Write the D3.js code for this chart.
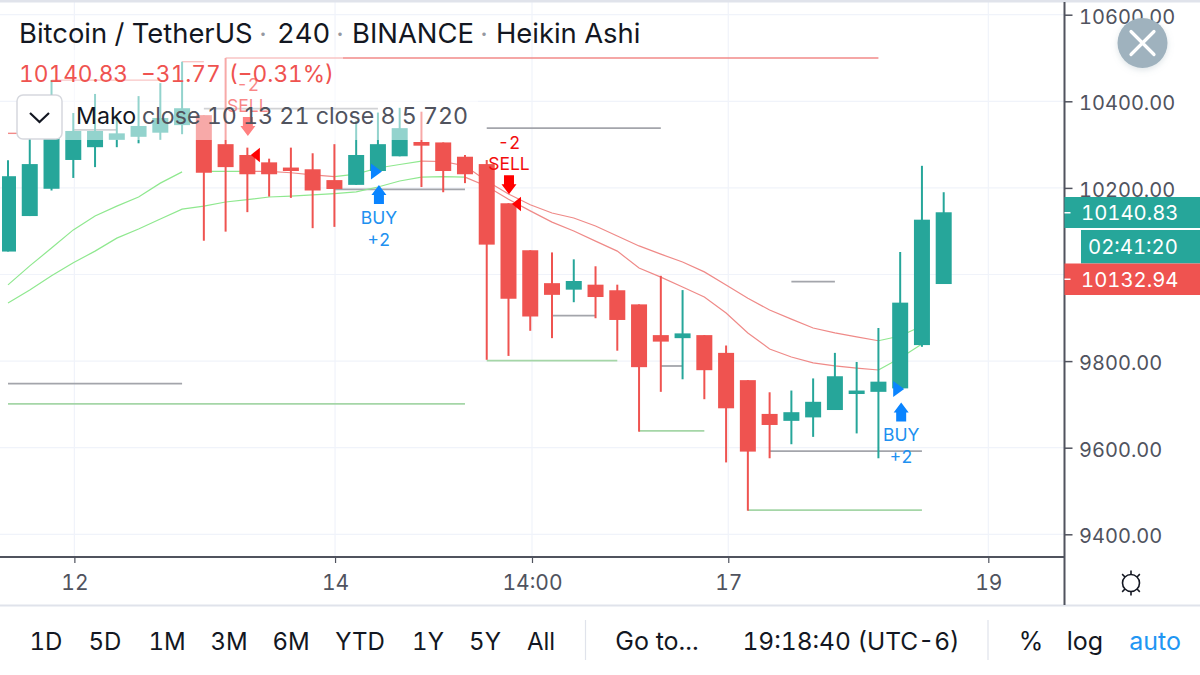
<!DOCTYPE html>
<html><head><meta charset="utf-8">
<script src="https://cdn.jsdelivr.net/npm/d3@7/dist/d3.min.js"></script>
<style>
html,body{margin:0;padding:0;background:#fff;overflow:hidden}
svg{display:block}
text{font-family:Inter,"Noto Sans",sans-serif;font-variant-numeric:tabular-nums;font-feature-settings:"tnum"}
.ax path{display:none}
</style></head><body>
<svg id="c" width="1200" height="675"></svg>
<script>
// Heikin Ashi candles, four hour bars
const opens  = [10053,10135,10198,10264.5,10294,10311,10318,10327.5,10345,10368,10301,10276,10259,10247,10243,10218,10207,10239,10273,10306,10305,10272,10255,10164.5,10056,9980,9965,9976.5,9963.6,9931,9860,9853,9860,9819,9756,9678,9662,9670,9687,9724,9729,9737,9837,9978];
const highs  = [10264,10345,10449,10373,10417,10364,10412,10442,10491.5,10368,10500,10293,10267.5,10293,10280,10301,10355,10374,10385,10376,10305,10276,10264.5,10164.5,10056,10051,10035,10019,9976.5,9931,9997,9964,9860,9836,9756,9728,9732,9760,9819,9798,9876.5,10052,10251,10190];
const lows   = [10053,10135,10194,10223,10248,10294,10303,10311,10324,10078,10099,10144,10180,10177,10107,10110,10207,10239,10273,10202,10190,10211,9803,9812,9870,9853,9936,9899,9824,9637,9729,9758,9712,9566,9454.5,9575.6,9608,9625,9687,9633,9575.6,9737,9833,9978];
const closes = [10227,10255,10334,10331.5,10331.5,10326,10343,10361.5,10384,10235,10248,10231.5,10231.5,10239,10194,10197.5,10276,10301,10338,10297.5,10239,10231.5,10069,9944,9903,9953,9985,9948,9895,9786,9845,9864,9779,9691,9591,9652.5,9682,9706,9765,9732,9752.5,9935,10126.6,10143.7];
// the two Mako bands, per bar
const makoFast = [9976,10020,10061,10103,10135,10158,10179,10211,10237,10238,10238,10238,10238,10235,10230,10226,10232,10246,10254,10262,10261,10251,10216,10186,10161,10142,10130.5,10112,10089,10066,10047,10029,10006,9976,9945,9918,9897,9876.5,9865,9856,9847,9858,9881];
const makoSlow = [9934,9964,9997,10027,10054,10084,10105,10128,10151,10158,10167.5,10173,10179,10181,10184,10187,10191,10202,10216,10225,10226,10225,10204,10174,10147,10121,10100.5,10077,10054,10015,9994,9971,9948,9911,9865,9828,9809.5,9796,9789,9784,9779.5,9807,9839.5];
// band colour changes: [first bar, last bar, "up"/"down"]
const fastRuns = [[0,8,"up"],[9,11,"up"],[11,15,"down"],[15,19,"up"],[19,40,"down"],[40,42,"up"]];
const slowRuns = [[0,21,"up"],[21,40,"down"],[40,42,"up"]];
// stepped levels
const levelStart = [10,8,2,0,3,9,22,0,0,15,22,25,29,30,36,35,34];
const levelEnd   = [40,9,7,1,5,17,30,8,21,21,28,27,32,31,38,42,42];
const levelPrice = [10500,10491.5,10449,10326,10334,10383,10338,9748,9701,10196.4,9801,9905,9639,9788.7,9983.4,9592,9456];
const levelKind  = ["r","r","r","r","k","k","k","k","g","k","g","k","g","k","k","k","g"];
// signals
const sigBar   = [11,23,17,41];
const sigPrice = [10276,10164.5,10239,9737];
const sigSide  = ["sell","sell","buy","buy"];
const sigQty   = ["-2","-2","+2","+2"];
const sigGap   = [38,28,14,14];
// axes
const priceTicks = [9400,9600,9800,10000,10200,10400,10600];
const timeTickBars = [3.05,15.03,24.08,33.1,45.05];
const timeTickLabels = ["12","14","14:00","17","19"];
const rangeButtons = ["1D","5D","1M","3M","6M","YTD","1Y","5Y","All"];
const rangeCentres = [46,105,167,229,291,360,428,485,541];

const GREEN="#26a69a",RED="#ef5350";
const svg=d3.select("#c");
const x=d3.scaleLinear().domain([0,43]).range([8,943.7]);
const y=d3.scaleLinear().domain([9400,10600]).range([534.3,14.7]);
const AXX=1064.5,AXY=557;

svg.append("defs").append("clipPath").attr("id","pane").append("rect").attr("x",2).attr("y",0).attr("width",AXX-2).attr("height",AXY);
const f=svg.append("defs").append("filter").attr("id","sh").attr("x","-30%").attr("y","-30%").attr("width","160%").attr("height","160%");
f.append("feDropShadow").attr("dx",0).attr("dy",2).attr("stdDeviation",3).attr("flood-color","#90a4ae").attr("flood-opacity",.3);

// grid
const grid=svg.append("g").attr("stroke","#f0f3fa").attr("stroke-width",1.2);
grid.selectAll("line.h").data(priceTicks).join("line").attr("class","h").attr("x1",0).attr("x2",AXX).attr("y1",d=>y(d)).attr("y2",d=>y(d));
grid.selectAll("line.v").data(timeTickBars).join("line").attr("class","v").attr("y1",2).attr("y2",AXY).attr("x1",d=>x(d)).attr("x2",d=>x(d));

const pane=svg.append("g").attr("clip-path","url(#pane)");
// levels
const levelColor={r:"#f28a88",k:"#a3a5ab",g:"#a5d6a7"};
pane.selectAll("line.lvl").data(levelPrice).join("line").attr("class","lvl")
 .attr("x1",(d,i)=>x(levelStart[i])).attr("x2",(d,i)=>x(levelEnd[i]))
 .attr("y1",d=>y(d)).attr("y2",d=>y(d))
 .attr("stroke",(d,i)=>levelColor[levelKind[i]]).attr("stroke-width",(d,i)=>levelKind[i]==="r"?1.4:1.8);
// bands
const ln=d3.line().x(d=>x(d[0])).y(d=>y(d[1]));
function band(vals,runs){
 runs.forEach(r=>{
  const pts=d3.range(r[0],r[1]+1).map(i=>[i,vals[i]]);
  pane.append("path").attr("d",ln(pts)).attr("fill","none").attr("stroke-width",1.2)
   .attr("stroke",r[2]==="up"?"#8fe88f":"#ef8a88");
 });
}
band(makoFast,fastRuns); band(makoSlow,slowRuns);
// candles
const bars=d3.range(opens.length);
const col=i=>closes[i]>=opens[i]?GREEN:RED;
pane.selectAll("line.w").data(bars).join("line").attr("class","w")
 .attr("x1",i=>x(i)).attr("x2",i=>x(i)).attr("y1",i=>y(highs[i])).attr("y2",i=>y(lows[i]))
 .attr("stroke",col).attr("stroke-width",2);
pane.selectAll("rect.b").data(bars).join("rect").attr("class","b")
 .attr("x",i=>x(i)-8).attr("width",16)
 .attr("y",i=>y(Math.max(opens[i],closes[i]))).attr("height",i=>Math.max(1.5,Math.abs(y(opens[i])-y(closes[i]))))
 .attr("fill",col);
// signals
sigBar.forEach((b,i)=>{
 const sell=sigSide[i]==="sell";
 const c=sell?"#ff0000":"#0a84ff", tc=sell?"#f20d0d":"#2090f0";
 const g=pane.append("g");
 const cx=x(b), py=y(sigPrice[i]);
 if(sell){
  const tipY=b===11?py:py+0.8;
  g.append("path").attr("fill",c).attr("d",`M${cx+3.5} ${tipY}L${cx+12.5} ${tipY-7.3}V${tipY+7.3}Z`);
  const top=py-sigGap[i];
  g.append("path").attr("fill",c).attr("d",`M${cx-4.5} ${top}H${cx+5.5}V${top+9}H${cx+8}L${cx+0.5} ${top+19}L${cx-7} ${top+9}H${cx-4.5}Z`);
  g.append("text").attr("x",cx+0.5).attr("y",top-5).attr("text-anchor","middle").attr("font-size",17.5).attr("fill",tc).text("SELL");
  g.append("text").attr("x",cx+0.5).attr("y",top-26).attr("text-anchor","middle").attr("font-size",17.5).attr("fill",tc).text(sigQty[i]);
 } else {
  const tx=cx+1;
  g.append("path").attr("fill",c).attr("d",`M${tx-8} ${py-7.5}L${tx+3} ${py+0.5}L${tx-8} ${py+8.5}Z`);
  const top=py+sigGap[i];
  g.append("path").attr("fill",c).attr("d",`M${tx} ${top}L${tx+7.5} ${top+10}H${tx+5}V${top+19}H${tx-5}V${top+10}H${tx-7.5}Z`);
  g.append("text").attr("x",tx).attr("y",top+39).attr("text-anchor","middle").attr("font-size",17.5).attr("fill",tc).text("BUY");
  g.append("text").attr("x",tx).attr("y",top+61).attr("text-anchor","middle").attr("font-size",17.5).attr("fill",tc).text(sigQty[i]);
 }
});

// translucent legend backgrounds
svg.append("rect").attr("x",10).attr("y",50).attr("width",333).attr("height",44).attr("fill","#fff").attr("opacity",.5);
svg.append("rect").attr("x",62).attr("y",94).attr("width",416).attr("height",46).attr("fill","#fff").attr("opacity",.5);

// legend text
function t(txt,xp,yp,size,fill,anchor){
 return svg.append("text").attr("x",xp).attr("y",yp).attr("font-size",size).attr("fill",fill).attr("text-anchor",anchor||"start").attr("dominant-baseline","central").text(txt);
}
const dark="#131722",grey="#50535e";
t("Bitcoin / TetherUS",19,33,27.4,dark);
t("·",263,33,26,"#9598a1","middle");
t("240",277,33,27.4,dark);
t("·",340,33,26,"#9598a1","middle");
t("BINANCE",352,33,27.4,dark);
t("·",484,33,26,"#9598a1","middle");
t("Heikin Ashi",496,33,27.4,dark);
t("10140.83",19,73,22.7,RED);
t("−31.77",141,73,22.7,RED);
t("(−0.31%)",229,73,22.7,RED);
t("Mako",76,116,23.2,dark);
t("close 10 13 21 close 8 5 720",142,116,23.2,grey);
// chevron button
svg.append("rect").attr("x",17).attr("y",95).attr("width",45).attr("height",44).attr("rx",6).attr("fill","#fff").attr("stroke","#d6d8de").attr("stroke-width",1.5);
svg.append("path").attr("d","M30 113L39.5 122L49 113").attr("fill","none").attr("stroke",dark).attr("stroke-width",2.2);

// chrome lines
svg.append("rect").attr("x",0).attr("y",0).attr("width",1200).attr("height",2.5).attr("fill","#e0e3eb");
svg.append("rect").attr("x",0).attr("y",604.5).attr("width",1200).attr("height",2).attr("fill","#e0e3eb");
svg.append("line").attr("x1",0).attr("x2",AXX).attr("y1",AXY).attr("y2",AXY).attr("stroke",grey).attr("stroke-width",2);
svg.append("line").attr("x1",AXX).attr("x2",AXX).attr("y1",2).attr("y2",605).attr("stroke",grey).attr("stroke-width",2);

// axes
const ya=svg.append("g").attr("class","ax").attr("transform",`translate(${AXX},0)`)
 .call(d3.axisRight(y).tickValues(priceTicks).tickSize(8).tickPadding(6.5).tickFormat(d3.format(".2f")));
ya.selectAll("text").attr("font-size",20).attr("fill",grey).attr("dy","0.42em").style("font-family","Inter");
ya.selectAll("line").attr("stroke",grey).attr("stroke-width",1.5);
const xa=svg.append("g").attr("class","ax").attr("transform",`translate(0,${AXY})`)
 .call(d3.axisBottom(x).tickValues(timeTickBars).tickSize(6).tickPadding(12).tickFormat((d,i)=>timeTickLabels[i]));
xa.selectAll("text").attr("font-size",21).attr("fill",grey).style("font-family","Inter");
xa.selectAll("line").attr("stroke",grey).attr("stroke-width",1.2);

// price tags
svg.append("rect").attr("x",AXX).attr("y",197).attr("width",136).attr("height",31).attr("fill",GREEN);
svg.append("rect").attr("x",1081).attr("y",230).attr("width",119).attr("height",33.5).attr("fill",GREEN);
svg.append("rect").attr("x",AXX).attr("y",263.5).attr("width",136).attr("height",31.5).attr("fill",RED);
svg.append("rect").attr("x",AXX).attr("y",212).attr("width",6).attr("height",1.5).attr("fill","#fff");
svg.append("rect").attr("x",AXX).attr("y",278.5).attr("width",6).attr("height",1.5).attr("fill","#fff");
t("10140.83",1081,212.5,20.3,"#fff");
t("02:41:20",1088,246.5,20.3,"#fff");
t("10132.94",1081,279,20.3,"#fff");

// close button
svg.append("circle").attr("cx",1142.5).attr("cy",43).attr("r",25).attr("fill","#9fb2be").attr("filter","url(#sh)");
svg.append("path").attr("d","M1131 31.5L1154 54.5M1154 31.5L1131 54.5").attr("stroke","#fff").attr("stroke-width",3.2).attr("stroke-linecap","round");

// settings sun icon
const sun=svg.append("g").attr("transform","translate(1131,583)").attr("stroke",dark).attr("fill","none").attr("stroke-width",1.6);
sun.append("circle").attr("r",8.5);
d3.range(8).filter(k=>k%4!==2).forEach(k=>{
 const a=k*Math.PI/4;
 sun.append("line").attr("x1",8.5*Math.sin(a)).attr("y1",-8.5*Math.cos(a)).attr("x2",12.5*Math.sin(a)).attr("y2",-12.5*Math.cos(a));
});

// toolbar
rangeButtons.forEach((b,i)=>t(b,rangeCentres[i],641,24,dark,"middle"));
t("Go to...",657,641,25,dark,"middle");
t("19:18:40 (UTC-6)",851,641,24.5,dark,"middle");
t("%",1031,641,25,dark,"middle");
t("log",1085,641,25,dark,"middle");
t("auto",1155,641,25,"#2196f3","middle");
[585.5,988].forEach(v=>svg.append("line").attr("x1",v).attr("x2",v).attr("y1",620).attr("y2",660).attr("stroke","#e0e3eb").attr("stroke-width",1.2));
</script>
</body></html>
